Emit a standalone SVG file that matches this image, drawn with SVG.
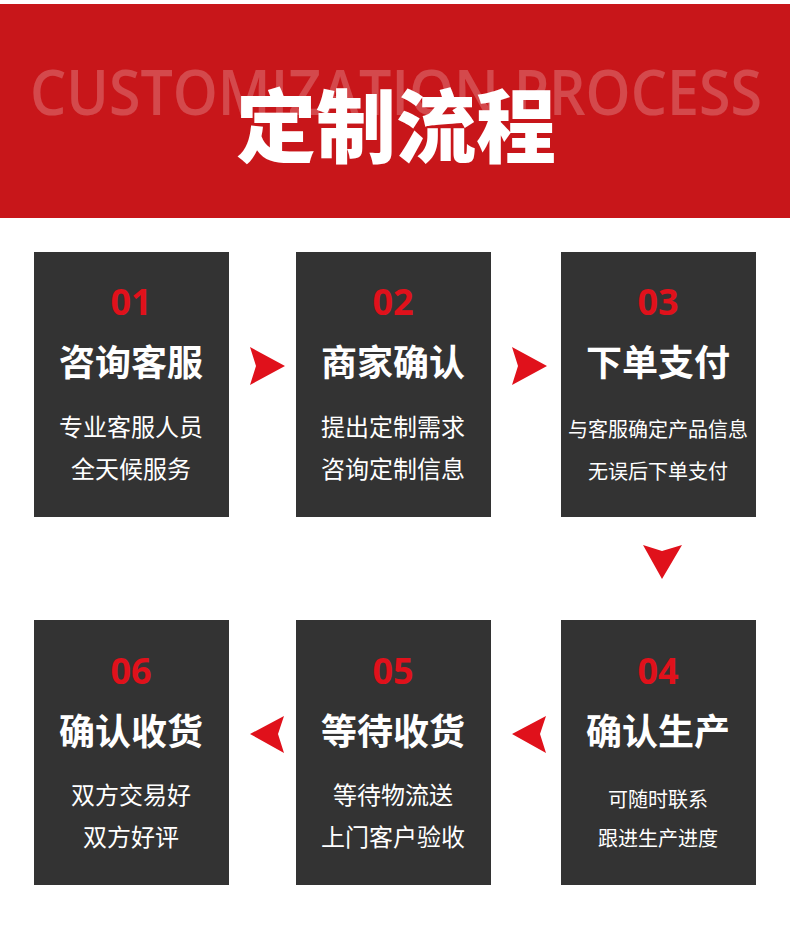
<svg xmlns="http://www.w3.org/2000/svg" width="790" height="932" viewBox="0 0 790 932">
<style>
.box{fill:#333333}
.num{font-family:"Open Sans","Noto Sans",sans-serif;font-weight:700;font-size:36px;fill:#e0111b;text-anchor:middle}
.ttl{font-family:"Noto Sans CJK SC",sans-serif;font-weight:700;font-size:36px;fill:#ffffff;text-anchor:middle}
.sub{font-family:"Noto Sans CJK SC",sans-serif;font-size:24px;fill:#ffffff;text-anchor:middle}
.sm{font-size:20px}
.arr{fill:#e0111b}
</style>
<rect x="0" y="0" width="790" height="932" fill="#ffffff"/>
<g id="header">
<rect x="0" y="4" width="790" height="214" fill="#c8161a"/>
<text x="396" y="115" font-family="'Open Sans','Noto Sans',sans-serif" font-weight="600" font-size="63" fill="#ffffff" fill-opacity="0.22" text-anchor="middle" textLength="732" lengthAdjust="spacingAndGlyphs">CUSTOMIZATION PROCESS</text>
<text x="396" y="156" font-family="'Noto Sans CJK SC',sans-serif" font-weight="900" font-size="80" fill="#ffffff" text-anchor="middle">定制流程</text>
</g>
<g id="step1">
<rect class="box" x="34" y="252" width="195" height="265"/>
<text class="num" x="131" y="315">01</text>
<text class="ttl" x="131" y="376">咨询客服</text>
<text class="sub" x="131" y="436">专业客服人员</text>
<text class="sub" x="131" y="478">全天候服务</text>
</g>
<g id="step2">
<rect class="box" x="296" y="252" width="195" height="265"/>
<text class="num" x="393" y="315">02</text>
<text class="ttl" x="393" y="376">商家确认</text>
<text class="sub" x="393" y="436">提出定制需求</text>
<text class="sub" x="393" y="478">咨询定制信息</text>
</g>
<g id="step3">
<rect class="box" x="561" y="252" width="195" height="265"/>
<text class="num" x="658" y="315">03</text>
<text class="ttl" x="658" y="376">下单支付</text>
<text class="sub sm" x="658" y="437">与客服确定产品信息</text>
<text class="sub sm" x="658" y="479">无误后下单支付</text>
</g>
<g id="step4">
<rect class="box" x="561" y="620" width="195" height="265"/>
<text class="num" x="658" y="684">04</text>
<text class="ttl" x="658" y="745">确认生产</text>
<text class="sub sm" x="658" y="807">可随时联系</text>
<text class="sub sm" x="658" y="846">跟进生产进度</text>
</g>
<g id="step5">
<rect class="box" x="296" y="620" width="195" height="265"/>
<text class="num" x="393" y="684">05</text>
<text class="ttl" x="393" y="745">等待收货</text>
<text class="sub" x="393" y="804">等待物流送</text>
<text class="sub" x="393" y="846">上门客户验收</text>
</g>
<g id="step6">
<rect class="box" x="34" y="620" width="195" height="265"/>
<text class="num" x="131" y="684">06</text>
<text class="ttl" x="131" y="745">确认收货</text>
<text class="sub" x="131" y="804">双方交易好</text>
<text class="sub" x="131" y="846">双方好评</text>
</g>
<g id="connectors">
<path class="arr" d="M250,347 L285,366 L250,385 L256,366 Z"/>
<path class="arr" d="M512,347 L547,366 L512,385 L518,366 Z"/>
<path class="arr" d="M643,545 L662,551 L682,545 L662,579 Z"/>
<path class="arr" d="M546,716 L540,734 L546,753 L512,734 Z"/>
<path class="arr" d="M284,716 L278,734 L284,753 L250,734 Z"/>
</g>
</svg>
